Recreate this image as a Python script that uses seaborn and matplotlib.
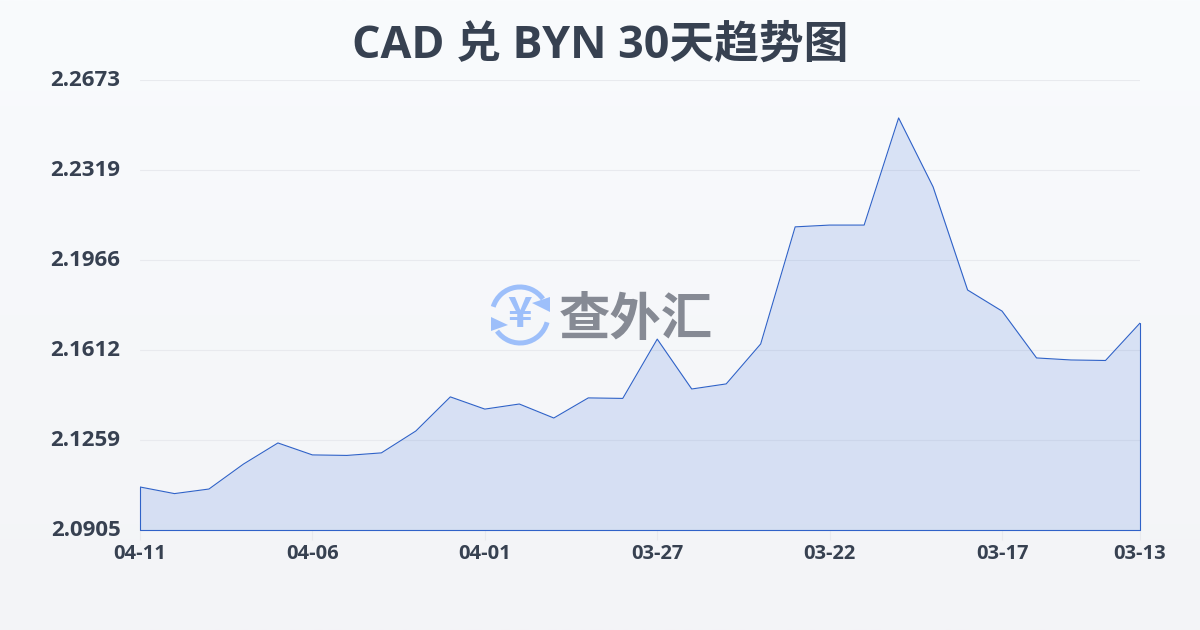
import matplotlib
matplotlib.use("Agg")
import matplotlib.pyplot as plt
import matplotlib.transforms as mtrans
import numpy as np
import pandas as pd
import seaborn as sns
from matplotlib.patches import Arc, Polygon

# values, oldest label on the right
rates = [
    2.1074, 2.1048, 2.1066, 2.1164, 2.1247, 2.1200, 2.1198, 2.1208, 2.1294, 2.1428,
    2.1380, 2.1400, 2.1345, 2.1424, 2.1422, 2.1655, 2.1459, 2.1479, 2.1636, 2.2096,
    2.2103, 2.2103, 2.2524, 2.2253, 2.1848, 2.1765, 2.1581, 2.1573, 2.1571, 2.1718,
]
x_ticks = [0, 5, 10, 15, 20, 25, 29]
x_labels = ["04-11", "04-06", "04-01", "03-27", "03-22", "03-17", "03-13"]
y_ticks = [2.0905, 2.1259, 2.1612, 2.1966, 2.2319, 2.2673]
y_labels = ["2.0905", "2.1259", "2.1612", "2.1966", "2.2319", "2.2673"]

TEXT = "#374151"
LINE = "#2f62c8"
FILL = "#2d64d8"
GRID = "#e8eaee"
LOGO = "#9dbffa"
CJK = ["Noto Sans CJK SC", "DejaVu Sans"]

sns.set_theme(style="white")
plt.rcParams["font.family"] = ["Open Sans", "Noto Sans CJK SC", "DejaVu Sans"]

df = pd.DataFrame({"day": np.arange(len(rates)), "rate": rates})

fig = plt.figure(figsize=(12, 6.3), dpi=100)

# page background, light vertical gradient
bg = fig.add_axes([0, 0, 1, 1], zorder=0)
bg.imshow(np.linspace(0, 1, 256).reshape(-1, 1), aspect="auto", extent=[0, 1, 0, 1],
          cmap=matplotlib.colors.LinearSegmentedColormap.from_list("bg", ["#f9fbfd", "#f3f4f7"]))
bg.axis("off")

ax = fig.add_axes([140 / 1200, 1 - 530 / 630, 1000 / 1200, 450 / 630], zorder=1)
ax.patch.set_alpha(0)
ax.set_axisbelow(True)
ax.grid(axis="y", color=GRID, linewidth=0.8)
ax.grid(axis="x", visible=False)

ax.fill_between(df["day"], df["rate"], y_ticks[0], facecolor=FILL, alpha=0.15, linewidth=0, zorder=2)
sns.lineplot(data=df, x="day", y="rate", ax=ax, color=LINE, linewidth=0.8, zorder=3)
# the area outline also closes along the sides and the bottom
ax.plot([0, 0, 29, 29], [rates[0], y_ticks[0], y_ticks[0], rates[-1]],
        color=LINE, linewidth=0.8, zorder=3, clip_on=False)

ax.set_xlim(0, 29)
ax.set_ylim(y_ticks[0], y_ticks[-1])
ax.set_xticks(x_ticks)
ax.set_xticklabels(x_labels, fontsize=14.5, fontweight="bold", color=TEXT)
ax.set_yticks(y_ticks)
ax.set_yticklabels(y_labels, fontsize=16, fontweight="bold", color=TEXT)
ax.tick_params(axis="x", length=7, width=0.8, color=GRID, pad=3, bottom=True)
ax.tick_params(axis="y", length=0, pad=14)
# y labels sit about two pixels above their grid lines
nudge = mtrans.ScaledTranslation(0, 2 / 100, fig.dpi_scale_trans)
for lab in ax.get_yticklabels():
    lab.set_transform(lab.get_transform() + nudge)
ax.set_xlabel("")
ax.set_ylabel("")
sns.despine(ax=ax, left=True, bottom=True)

fig.text(0.5, 1 - 46.5 / 630, "CAD 兑 BYN 30天趋势图", ha="center", va="center",
         fontsize=32.2, fontweight="bold", color=TEXT)

# watermark, drawn in pixel coordinates of the page
wm = fig.add_axes([0, 0, 1, 1], zorder=2)
wm.set_xlim(0, 1200)
wm.set_ylim(630, 0)
wm.axis("off")
wm.patch.set_alpha(0)
wm.add_patch(Arc((520, 315), 56, 56, theta1=197, theta2=325, color=LOGO, linewidth=3.6))
wm.add_patch(Arc((520, 315), 56, 56, theta1=15, theta2=145, color=LOGO, linewidth=3.6))
wm.add_patch(Polygon([[550, 297], [550, 312], [532, 303]], color=LOGO, linewidth=0))
wm.add_patch(Polygon([[491, 317], [491, 331], [508, 325]], color=LOGO, linewidth=0))
wm.text(520, 315, "¥", ha="center", va="center", fontsize=30, fontweight="bold", color=LOGO, family=CJK)
wm.text(636, 319, "查外汇", ha="center", va="center", fontsize=37, fontweight="bold", color="#868a94", family=CJK)

plt.savefig("out.png", dpi=100)
plt.close()
